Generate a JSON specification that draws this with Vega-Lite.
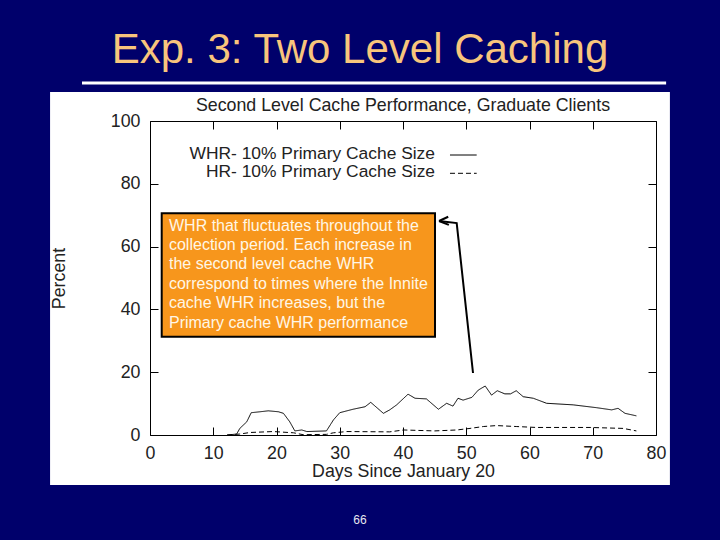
{
  "$schema": "https://vega.github.io/schema/vega-lite/v6.json",
  "width": 506,
  "height": 314,
  "autosize": {"type": "none"},
  "padding": {"left": 150, "top": 121, "right": 64, "bottom": 105},
  "background": "#00006b",
  "config": {
    "view": {"stroke": null},
    "font": "Liberation Sans"
  },
  "datasets": {
    "series": [
      {"day": 12.2, "pct": 0, "series": "WHR"},
      {"day": 13.7, "pct": 0.3, "series": "WHR"},
      {"day": 14.2, "pct": 2.1, "series": "WHR"},
      {"day": 15.3, "pct": 4.2, "series": "WHR"},
      {"day": 16.0, "pct": 7.1, "series": "WHR"},
      {"day": 17.4, "pct": 7.4, "series": "WHR"},
      {"day": 18.7, "pct": 7.7, "series": "WHR"},
      {"day": 20.3, "pct": 7.4, "series": "WHR"},
      {"day": 21.1, "pct": 6.9, "series": "WHR"},
      {"day": 22.1, "pct": 4.2, "series": "WHR"},
      {"day": 22.9, "pct": 1.3, "series": "WHR"},
      {"day": 24.0, "pct": 1.6, "series": "WHR"},
      {"day": 24.8, "pct": 1.1, "series": "WHR"},
      {"day": 27.9, "pct": 1.3, "series": "WHR"},
      {"day": 29.0, "pct": 4.8, "series": "WHR"},
      {"day": 30.0, "pct": 7.1, "series": "WHR"},
      {"day": 32.1, "pct": 8.2, "series": "WHR"},
      {"day": 34.0, "pct": 9.0, "series": "WHR"},
      {"day": 34.9, "pct": 10.4, "series": "WHR"},
      {"day": 36.9, "pct": 6.9, "series": "WHR"},
      {"day": 37.9, "pct": 8.0, "series": "WHR"},
      {"day": 39.0, "pct": 9.6, "series": "WHR"},
      {"day": 40.8, "pct": 13.0, "series": "WHR"},
      {"day": 41.9, "pct": 11.7, "series": "WHR"},
      {"day": 43.7, "pct": 11.5, "series": "WHR"},
      {"day": 45.6, "pct": 8.2, "series": "WHR"},
      {"day": 46.9, "pct": 10.1, "series": "WHR"},
      {"day": 47.9, "pct": 9.2, "series": "WHR"},
      {"day": 48.7, "pct": 11.7, "series": "WHR"},
      {"day": 49.5, "pct": 11.1, "series": "WHR"},
      {"day": 50.9, "pct": 12.0, "series": "WHR"},
      {"day": 51.9, "pct": 14.3, "series": "WHR"},
      {"day": 53.0, "pct": 15.6, "series": "WHR"},
      {"day": 54.0, "pct": 12.7, "series": "WHR"},
      {"day": 54.9, "pct": 14.1, "series": "WHR"},
      {"day": 56.1, "pct": 13.1, "series": "WHR"},
      {"day": 57.0, "pct": 13.1, "series": "WHR"},
      {"day": 57.9, "pct": 14.1, "series": "WHR"},
      {"day": 59.0, "pct": 12.2, "series": "WHR"},
      {"day": 60.6, "pct": 11.7, "series": "WHR"},
      {"day": 62.7, "pct": 10.1, "series": "WHR"},
      {"day": 66.9, "pct": 9.6, "series": "WHR"},
      {"day": 70.6, "pct": 8.7, "series": "WHR"},
      {"day": 73.0, "pct": 8.0, "series": "WHR"},
      {"day": 74.0, "pct": 8.5, "series": "WHR"},
      {"day": 75.1, "pct": 6.9, "series": "WHR"},
      {"day": 76.9, "pct": 6.1, "series": "WHR"},
      {"day": 12.2, "pct": 0, "series": "HR"},
      {"day": 14.2, "pct": 0.3, "series": "HR"},
      {"day": 15.8, "pct": 0.8, "series": "HR"},
      {"day": 19.5, "pct": 1.1, "series": "HR"},
      {"day": 22.7, "pct": 0.7, "series": "HR"},
      {"day": 24.2, "pct": 0.1, "series": "HR"},
      {"day": 27.9, "pct": 0.2, "series": "HR"},
      {"day": 29.0, "pct": 0.7, "series": "HR"},
      {"day": 31.1, "pct": 1.1, "series": "HR"},
      {"day": 37.9, "pct": 1.0, "series": "HR"},
      {"day": 40.1, "pct": 1.6, "series": "HR"},
      {"day": 45.0, "pct": 1.3, "series": "HR"},
      {"day": 48.5, "pct": 1.6, "series": "HR"},
      {"day": 50.6, "pct": 2.1, "series": "HR"},
      {"day": 52.7, "pct": 2.7, "series": "HR"},
      {"day": 54.8, "pct": 3.0, "series": "HR"},
      {"day": 57.9, "pct": 2.7, "series": "HR"},
      {"day": 61.1, "pct": 2.4, "series": "HR"},
      {"day": 69.6, "pct": 2.4, "series": "HR"},
      {"day": 74.8, "pct": 2.1, "series": "HR"},
      {"day": 76.9, "pct": 1.3, "series": "HR"}
    ],
    "panel": [{"day": -15.8, "day2": 82.2, "pct": -15.9, "pct2": 109.2}],
    "box": [{"day": 1.85, "day2": 45.06, "pct": 31.3, "pct2": 70.6}],
    "notes": [
      {"day": 3.0, "pct": 65.06, "text": "WHR that fluctuates throughout the"},
      {"day": 3.0, "pct": 58.89, "text": "collection period. Each increase in"},
      {"day": 3.0, "pct": 52.71, "text": "the second level cache WHR"},
      {"day": 3.0, "pct": 46.53, "text": "correspond to times where the Innite"},
      {"day": 3.0, "pct": 40.35, "text": "cache WHR increases, but the"},
      {"day": 3.0, "pct": 34.17, "text": "Primary cache WHR performance"}
    ],
    "arrow": [
      {"day": 51.07, "pct": 19.75, "part": "shaft", "ord": 1},
      {"day": 48.49, "pct": 67.5, "part": "shaft", "ord": 2},
      {"day": 45.7, "pct": 68.15, "part": "shaft", "ord": 3},
      {"day": 45.7, "pct": 68.15, "part": "barb1", "ord": 1},
      {"day": 47.15, "pct": 69.5, "part": "barb1", "ord": 2},
      {"day": 45.7, "pct": 68.15, "part": "barb2", "ord": 1},
      {"day": 47.25, "pct": 66.9, "part": "barb2", "ord": 2}
    ],
    "legend": [
      {"day": 45.06, "pct": 88.0, "label": "WHR- 10% Primary Cache Size", "series": "WHR", "lx": 47.43, "lx2": 51.65, "ly": 89.17},
      {"day": 45.06, "pct": 82.1, "label": "HR- 10% Primary Cache Size", "series": "HR", "lx": 47.43, "lx2": 51.65, "ly": 83.34}
    ],
    "texts": [
      {"day": 33.2, "pct": 118.5, "text": "Exp. 3: Two Level Caching", "kind": "slidetitle"},
      {"day": 40.0, "pct": 103.28, "text": "Second Level Cache Performance, Graduate Clients", "kind": "charttitle"},
      {"day": 33.2, "pct": -27.1, "text": "66", "kind": "page"}
    ],
    "sep": [{"day": -10.75, "day2": 81.6, "pct": 112.1}]
  },
  "layer": [
    {
      "data": {"name": "panel"},
      "mark": {"type": "rect", "fill": "white", "clip": false},
      "encoding": {
        "x": {"field": "day", "type": "quantitative", "scale": {"domain": [0, 80], "nice": false, "zero": false}, "axis": null},
        "x2": {"field": "day2"},
        "y": {"field": "pct", "type": "quantitative", "scale": {"domain": [0, 100], "nice": false, "zero": false}, "axis": null},
        "y2": {"field": "pct2"}
      }
    },
    {
      "data": {"name": "series"},
      "mark": {"type": "line", "stroke": "black", "strokeWidth": 1, "clip": false},
      "encoding": {
        "x": {
          "field": "day", "type": "quantitative",
          "axis": {
            "orient": "bottom", "values": [0, 10, 20, 30, 40, 50, 60, 70, 80],
            "tickSize": -8, "labelPadding": 17, "labelFontSize": 17.8, "labelColor": "#222222",
            "labelFlush": false, "labelFont": "Liberation Sans",
            "title": "Days Since January 20", "titleFontSize": 17.8, "titleFontWeight": "normal",
            "titleColor": "#222222", "titlePadding": 1, "titleFont": "Liberation Sans",
            "domainColor": "black", "tickColor": "black", "grid": false, "zindex": 1
          }
        },
        "y": {
          "field": "pct", "type": "quantitative",
          "axis": {
            "orient": "left", "values": [0, 20, 40, 60, 80, 100],
            "tickSize": -8, "labelPadding": 18, "labelFontSize": 17.8, "labelColor": "#222222",
            "labelFlush": false, "labelFont": "Liberation Sans",
            "title": "Percent", "titleFontSize": 17.8, "titleFontWeight": "normal",
            "titleColor": "#222222", "titlePadding": 42, "titleFont": "Liberation Sans",
            "domainColor": "black", "tickColor": "black", "grid": false, "zindex": 1
          }
        },
        "detail": {"field": "series"},
        "strokeDash": {
          "field": "series", "type": "nominal",
          "scale": {"domain": ["WHR", "HR"], "range": [[1, 0], [5, 3]]},
          "legend": null
        }
      }
    },
    {
      "data": {"name": "panel"},
      "mark": {"type": "point", "opacity": 0, "clip": false},
      "encoding": {
        "x": {
          "field": "day", "type": "quantitative",
          "axis": {
            "orient": "top", "values": [0, 10, 20, 30, 40, 50, 60, 70, 80],
            "tickSize": -8, "labels": false, "title": null,
            "domainColor": "black", "tickColor": "black", "grid": false, "zindex": 1
          }
        },
        "y": {
          "field": "pct", "type": "quantitative",
          "axis": {
            "orient": "right", "values": [0, 20, 40, 60, 80, 100],
            "tickSize": -8, "labels": false, "title": null,
            "domainColor": "black", "tickColor": "black", "grid": false, "zindex": 1
          }
        }
      }
    },
    {
      "data": {"name": "legend"},
      "mark": {"type": "text", "align": "right", "baseline": "alphabetic", "fontSize": 17.4, "color": "#222222", "font": "Liberation Sans", "clip": false},
      "encoding": {
        "x": {"field": "day", "type": "quantitative", "axis": null},
        "y": {"field": "pct", "type": "quantitative", "axis": null},
        "text": {"field": "label"}
      }
    },
    {
      "data": {"name": "legend"},
      "mark": {"type": "rule", "stroke": "black", "strokeWidth": 1, "clip": false},
      "encoding": {
        "x": {"field": "lx", "type": "quantitative", "axis": null},
        "x2": {"field": "lx2"},
        "y": {"field": "ly", "type": "quantitative", "axis": null},
        "strokeDash": {
          "field": "series", "type": "nominal",
          "scale": {"domain": ["WHR", "HR"], "range": [[1, 0], [5, 3]]},
          "legend": null
        }
      }
    },
    {
      "data": {"name": "box"},
      "mark": {"type": "rect", "fill": "#F7961C", "stroke": "black", "strokeWidth": 2, "clip": false},
      "encoding": {
        "x": {"field": "day", "type": "quantitative", "axis": null},
        "x2": {"field": "day2"},
        "y": {"field": "pct", "type": "quantitative", "axis": null},
        "y2": {"field": "pct2"}
      }
    },
    {
      "data": {"name": "notes"},
      "mark": {"type": "text", "align": "left", "baseline": "alphabetic", "fontSize": 16, "color": "#FFF6E6", "font": "Liberation Sans", "clip": false},
      "encoding": {
        "x": {"field": "day", "type": "quantitative", "axis": null},
        "y": {"field": "pct", "type": "quantitative", "axis": null},
        "text": {"field": "text"}
      }
    },
    {
      "data": {"name": "arrow"},
      "mark": {"type": "line", "stroke": "black", "strokeWidth": 2, "clip": false},
      "encoding": {
        "x": {"field": "day", "type": "quantitative", "axis": null},
        "y": {"field": "pct", "type": "quantitative", "axis": null},
        "detail": {"field": "part"},
        "order": {"field": "ord"}
      }
    },
    {
      "data": {"name": "sep"},
      "mark": {"type": "rule", "stroke": "white", "strokeWidth": 3, "clip": false},
      "encoding": {
        "x": {"field": "day", "type": "quantitative", "axis": null},
        "x2": {"field": "day2"},
        "y": {"field": "pct", "type": "quantitative", "axis": null}
      }
    },
    {
      "data": {"name": "texts"},
      "transform": [{"filter": "datum.kind === 'slidetitle'"}],
      "mark": {"type": "text", "align": "center", "baseline": "alphabetic", "fontSize": 42, "color": "#F8C57C", "font": "Liberation Sans", "clip": false},
      "encoding": {
        "x": {"field": "day", "type": "quantitative", "axis": null},
        "y": {"field": "pct", "type": "quantitative", "axis": null},
        "text": {"field": "text"}
      }
    },
    {
      "data": {"name": "texts"},
      "transform": [{"filter": "datum.kind === 'charttitle'"}],
      "mark": {"type": "text", "align": "center", "baseline": "alphabetic", "fontSize": 17.8, "color": "#222222", "font": "Liberation Sans", "clip": false},
      "encoding": {
        "x": {"field": "day", "type": "quantitative", "axis": null},
        "y": {"field": "pct", "type": "quantitative", "axis": null},
        "text": {"field": "text"}
      }
    },
    {
      "data": {"name": "texts"},
      "transform": [{"filter": "datum.kind === 'page'"}],
      "mark": {"type": "text", "align": "center", "baseline": "middle", "fontSize": 12, "color": "#E8E8F0", "font": "Liberation Sans", "clip": false},
      "encoding": {
        "x": {"field": "day", "type": "quantitative", "axis": null},
        "y": {"field": "pct", "type": "quantitative", "axis": null},
        "text": {"field": "text"}
      }
    }
  ],
  "resolve": {"axis": {"x": "independent", "y": "independent"}}
}
